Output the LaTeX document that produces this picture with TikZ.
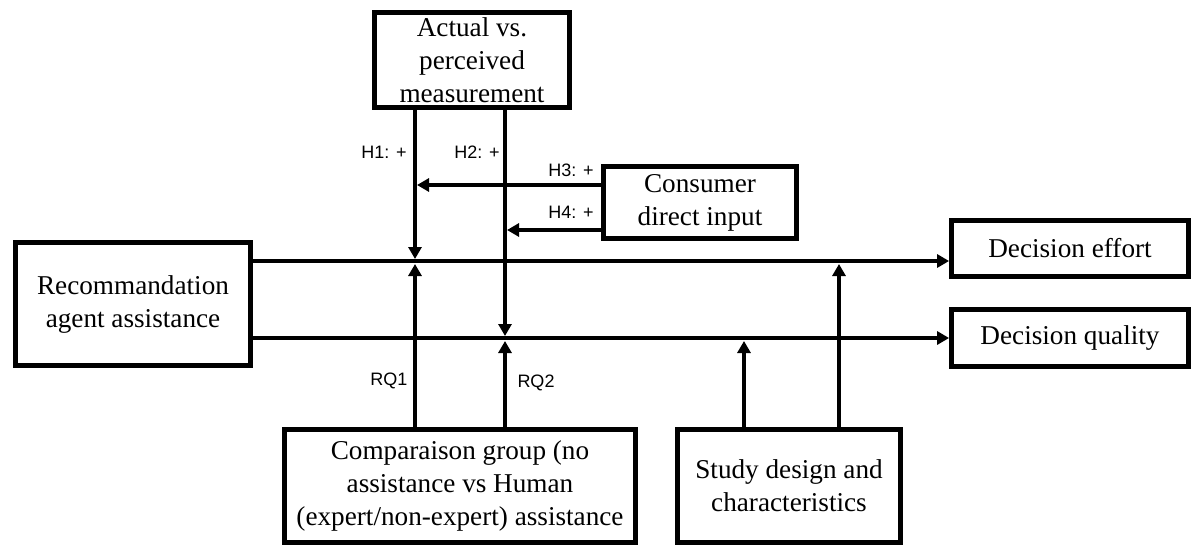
\documentclass[tikz,border=0pt]{standalone}
\usepackage{fontspec}
\setmainfont{Liberation Serif}
\newfontfamily\labelfont{Liberation Sans}
\usetikzlibrary{arrows.meta}

\begin{document}
\begin{tikzpicture}[x=0.5pt,y=-0.5pt,
  box/.style={draw, line width=2.4pt, align=center, inner sep=0pt,
    font=\fontsize{13.6}{16.5}\selectfont},
  conn/.style={line width=2pt},
  arr/.style={conn, -{Triangle[length=6pt,width=6.5pt]}},
  lbl/.style={font=\labelfont\fontsize{9}{11}\selectfont, inner sep=0pt}]
\useasboundingbox (0,0) rectangle (1194,546);

% boxes
\node[box, minimum width=97.5pt, minimum height=47.5pt] (meas) at (472,60)
  {Actual vs.\\perceived\\measurement};
\node[box, minimum width=96.5pt, minimum height=36pt] (cons) at (700,202.5)
  {Consumer\\direct input};
\node[box, minimum width=117.5pt, minimum height=61.5pt] (rec) at (133,304)
  {Recommandation\\agent assistance};
\node[box, minimum width=118.5pt, minimum height=28pt] (effort) at (1070,248.5)
  {Decision effort};
\node[box, minimum width=118.5pt, minimum height=28.5pt] (quality) at (1070,338)
  {Decision quality};
\node[box, minimum width=175.5pt, minimum height=56.5pt] (comp) at (460,486)
  {Comparaison group (no\\assistance vs Human\\(expert/non-expert) assistance};
\node[box, minimum width=111.5pt, minimum height=56.5pt] (study) at (789,486)
  {Study design and\\characteristics};

% junction points on the two main paths
\coordinate (j1) at (415,261);
\coordinate (j2) at (505,338);
\coordinate (j3) at (839,261);
\coordinate (j4) at (744,338);
\coordinate (h3) at (415,185);
\coordinate (h4) at (505,230);

% main paths
\draw[arr] (rec.east |- j1) -- (effort.west |- j1);
\draw[arr] (rec.east |- j2) -- (quality.west |- j2);

% moderators from above
\draw[arr, shorten >=1pt] (meas.south -| j1) -- (j1);
\draw[arr, shorten >=1pt] (meas.south -| j2) -- (j2);
\draw[arr, shorten >=1pt] (cons.west |- h3) -- (h3);
\draw[arr, shorten >=1pt] (cons.west |- h4) -- (h4);

% moderators from below
\draw[arr, shorten >=1.5pt] (comp.north -| j1) -- (j1);
\draw[arr, shorten >=1.5pt] (comp.north -| j2) -- (j2);
\draw[arr, shorten >=1.5pt] (study.north -| j4) -- (j4);
\draw[arr, shorten >=1.5pt] (study.north -| j3) -- (j3);

% labels
\node[lbl] (lh1) at (384,152) {H1: +};
\node[lbl] (lh2) at (477,152) {H2: +};
\node[lbl] (lh3) at (571,170) {H3: +};
\node[lbl] (lh4) at (571,212) {H4: +};
\node[lbl] (lrq1) at (389,381) {RQ1};
\node[lbl] (lrq2) at (536,383) {RQ2};
\end{tikzpicture}
\end{document}
